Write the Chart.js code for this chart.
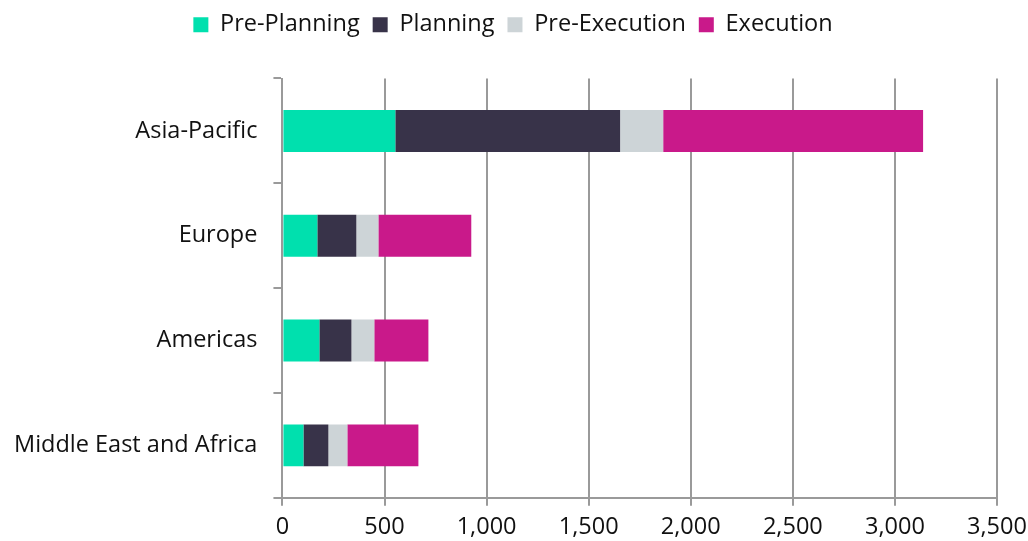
<!DOCTYPE html>
<html>
<head>
  <title>Projects by Region and Stage</title>
  <script src="https://cdn.jsdelivr.net/npm/chart.js"></script>
  <style>
    body { margin: 0; padding: 0; background: #fff; }
    .chart-container { width: 1028px; height: 541px; }
    #myChart { display: block; }
  </style>
</head>
<body>
  <div class="chart-container">
    <canvas id="myChart"></canvas>
  </div>
  <script>
    // --- DATA ---
    const regions = ['Asia-Pacific', 'Europe', 'Americas', 'Middle East and Africa'];
    const prePlanning  = [553, 171, 181, 103];
    const planning     = [1101, 191, 157, 122];
    const preExecution = [211, 108, 112, 93];
    const execution    = [1273, 455, 265, 348];

    const stageNames = ['Pre-Planning', 'Planning', 'Pre-Execution', 'Execution'];
    const stageValues = [prePlanning, planning, preExecution, execution];
    const colors = ['#00E0AE', '#383349', '#CDD4D7', '#C9198A'];

    const gridGray = '#9a9a9a';
    Chart.defaults.font.family = '"Open Sans", sans-serif';
    Chart.defaults.font.size = 23.5;
    Chart.defaults.color = '#111';

    // extra space under the legend
    const legendMargin = {
      id: 'legendMargin',
      beforeInit(chart) {
        const origFit = chart.legend.fit;
        chart.legend.fit = function () {
          origFit.bind(chart.legend)();
          this.height += 32;
        };
      }
    };

    const ctx = document.getElementById('myChart').getContext('2d');
    new Chart(ctx, {
      type: 'bar',
      data: {
        labels: regions,
        datasets: stageValues.map((arr, i) => ({
          label: stageNames[i],
          data: arr,
          backgroundColor: colors[i],
          borderWidth: 0,
          categoryPercentage: 1,
          barPercentage: 0.4
        }))
      },
      options: {
        indexAxis: 'y',
        responsive: true,
        maintainAspectRatio: false,
        animation: false,
        layout: { padding: { left: -2, right: 0, top: 0, bottom: -7 } },
        plugins: {
          tooltip: { enabled: false },
          legend: {
            position: 'top',
            labels: {
              boxWidth: 15,
              boxHeight: 15,
              padding: 13,
              font: { size: 23.5 }
            }
          }
        },
        scales: {
          x: {
            stacked: true,
            min: 0,
            max: 3500,
            // let the last tick label run closer to the edge
            afterFit: scale => { scale.paddingRight = 31; },
            ticks: {
              stepSize: 500,
              padding: 7,
              callback: v => v.toLocaleString('en-US')
            },
            grid: {
              color: gridGray,
              lineWidth: 2,
              tickLength: 8
            },
            border: { color: gridGray, width: 2 }
          },
          y: {
            stacked: true,
            ticks: { padding: 16 },
            grid: {
              offset: true,
              drawOnChartArea: false,
              color: gridGray,
              lineWidth: 2,
              tickLength: 9
            },
            border: { color: gridGray, width: 2 }
          }
        }
      },
      plugins: [legendMargin]
    });
  </script>
</body>
</html>
